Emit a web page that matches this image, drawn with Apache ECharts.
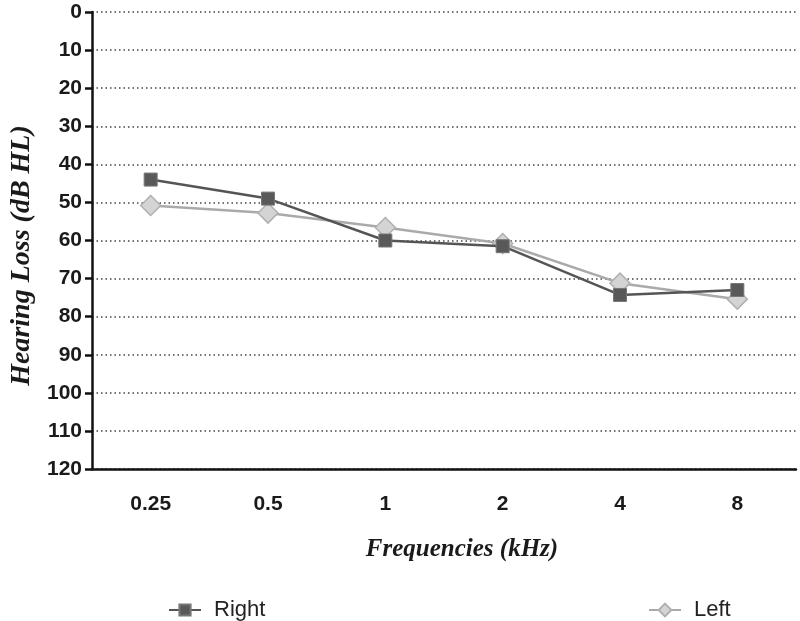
<!DOCTYPE html>
<html><head><meta charset="utf-8">
<script src="https://cdn.jsdelivr.net/npm/echarts@6/dist/echarts.min.js"></script>
<style>html,body{margin:0;padding:0;background:#fff}#c{width:800px;height:621px}</style>
</head><body><div id="c"></div>
<script>
const categories = ['0.25', '0.5', '1', '2', '4', '8'];
const rightValues = [44, 49, 60, 61.5, 74.3, 73];
const leftValues = [50.8, 52.8, 56.6, 60.8, 71.2, 75.4];
const yTicks = [0, 120, 10];

const chart = echarts.init(document.getElementById('c'));
const lab = {fontFamily: 'Liberation Sans', fontWeight: 'bold', fontSize: 21, color: '#1a1a1a'};
const nameStyle = {fontFamily: 'Liberation Serif', fontStyle: 'italic', fontWeight: 'bold', fontSize: 25, color: '#1a1a1a'};
const legText = {fontFamily: 'Liberation Sans', fontSize: 22, color: '#222', padding: [0, 0, 0, 8]};
chart.setOption({
  animation: false,
  grid: {left: 92, top: 12, right: 4, bottom: 152, containLabel: false, outerBoundsMode: 'none'},
  legend: [
    {data: ['Right'], left: 163, top: 594, itemWidth: 32, itemHeight: 14, textStyle: legText},
    {data: ['Left'], left: 643, top: 594, itemWidth: 32, itemHeight: 16, textStyle: legText}
  ],
  xAxis: {
    type: 'category', data: categories, boundaryGap: true,
    name: 'Frequencies (kHz)', nameLocation: 'middle', nameGap: 68,
    nameTextStyle: Object.assign({}, nameStyle, {padding: [0, 0, 0, 36]}),
    axisLine: {onZero: false, lineStyle: {color: '#111', width: 2.5}},
    axisTick: {alignWithLabel: true, length: 7, lineStyle: {color: '#111', width: 2.5}},
    axisLabel: Object.assign({margin: 25}, lab),
    splitLine: {show: false}
  },
  yAxis: {
    type: 'value', inverse: true, min: yTicks[0], max: yTicks[1], interval: yTicks[2],
    name: 'Hearing Loss (dB HL)', nameLocation: 'middle', nameGap: 56,
    nameTextStyle: Object.assign({}, nameStyle, {fontSize: 28, padding: [0, 30, 0, 0]}),
    axisLine: {show: true, onZero: false, lineStyle: {color: '#111', width: 2.5}},
    axisTick: {show: true, length: 7, lineStyle: {color: '#111', width: 2.5}},
    axisLabel: Object.assign({margin: 10}, lab),
    splitLine: {show: true, lineStyle: {color: '#444', width: 1.5, type: [1.5, 3]}}
  },
  series: [
    {name: 'Right', type: 'line', data: rightValues, symbol: 'rect', symbolSize: 13,
     lineStyle: {color: '#555', width: 2.5}, itemStyle: {color: '#595959', borderColor: '#777', borderWidth: 1}, z: 3},
    {name: 'Left', type: 'line', data: leftValues, symbol: 'diamond', symbolSize: 20,
     lineStyle: {color: '#aaa', width: 2.5}, itemStyle: {color: '#d4d4d4', borderColor: '#b0b0b0', borderWidth: 1.5}, z: 2}
  ]
});
</script></body></html>
